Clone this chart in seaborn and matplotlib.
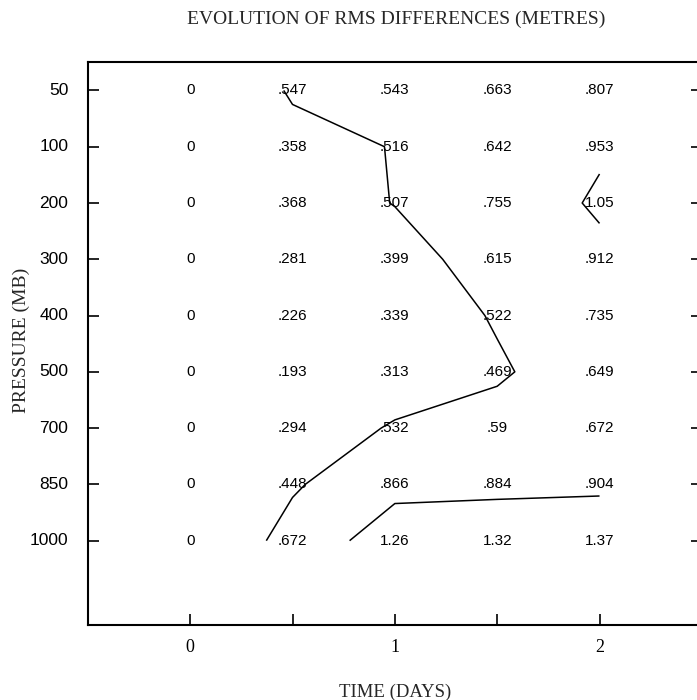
import numpy as np
import pandas as pd
import matplotlib
matplotlib.use("Agg")
import matplotlib.pyplot as plt
import seaborn as sns
from matplotlib.colors import ListedColormap

# grid of rms differences (metres): rows = pressure level, columns = time in days
days = [0, 0.5, 1, 1.5, 2]
pressures = [50, 100, 200, 300, 400, 500, 700, 850, 1000]
rms_50 = [0, .547, .543, .663, .807]
rms_100 = [0, .358, .516, .642, .953]
rms_200 = [0, .368, .507, .755, 1.05]
rms_300 = [0, .281, .399, .615, .912]
rms_400 = [0, .226, .339, .522, .735]
rms_500 = [0, .193, .313, .469, .649]
rms_700 = [0, .294, .532, .59, .672]
rms_850 = [0, .448, .866, .884, .904]
rms_1000 = [0, .672, 1.26, 1.32, 1.37]
contour_levels = [0.5, 1.0]
xtick_labels = ["0", "", "1", "", "2"]

df = pd.DataFrame([rms_50, rms_100, rms_200, rms_300, rms_400,
                   rms_500, rms_700, rms_850, rms_1000],
                  index=pressures, columns=days)


def fmt(v):
    if v == 0:
        return "0"
    s = f"{v:g}"
    return s[1:] if s.startswith("0.") else s


labels = df.map(fmt).values

sns.set_theme(style="ticks")
plt.rcParams["font.family"] = ["Liberation Serif", "DejaVu Serif"]

fig = plt.figure(figsize=(6.97, 7.0), dpi=100)
ax = fig.add_axes([0.126, 0.107, 0.881, 0.804])

sns.heatmap(df, ax=ax, cmap=ListedColormap(["white"]), cbar=False,
            annot=labels, fmt="",
            annot_kws={"fontsize": 11, "color": "black",
                       "family": ["Liberation Sans", "DejaVu Sans"]})

# contour lines drawn in heatmap cell-centre coordinates
xs = np.arange(len(days)) + 0.5
ys = np.arange(len(pressures)) + 0.5
X, Y = np.meshgrid(xs, ys)
ax.contour(X, Y, df.values, levels=contour_levels, colors="black",
           linewidths=1.1)

ax.set_xlim(-0.5, 5.5)
ax.set_ylim(10, 0)
ax.set_xticks(xs)
ax.set_xticklabels(xtick_labels, fontsize=13, rotation=0)
ax.set_yticks(ys)
ax.set_yticklabels([str(p) for p in pressures], fontsize=12.5, rotation=0,
                   family=["Liberation Sans", "DejaVu Sans"])
ax.tick_params(direction="in", length=8, width=1.2, top=True, right=True,
               colors="black")
ax.tick_params(axis="y", pad=14)
ax.tick_params(axis="x", pad=10)
for sp in ax.spines.values():
    sp.set_visible(True)
    sp.set_linewidth(1.5)
    sp.set_color("black")

ax.set_xlabel("TIME (DAYS)", fontsize=13.5, labelpad=20)
ax.set_ylabel("")
fig.text(0.03, 0.514, "PRESSURE (MB)", rotation=90, ha="center",
         va="center", fontsize=14)
fig.text(0.568, 0.972, "EVOLUTION OF RMS DIFFERENCES (METRES)",
         ha="center", va="center", fontsize=14)

fig.savefig("out.png", dpi=100, facecolor="white")
